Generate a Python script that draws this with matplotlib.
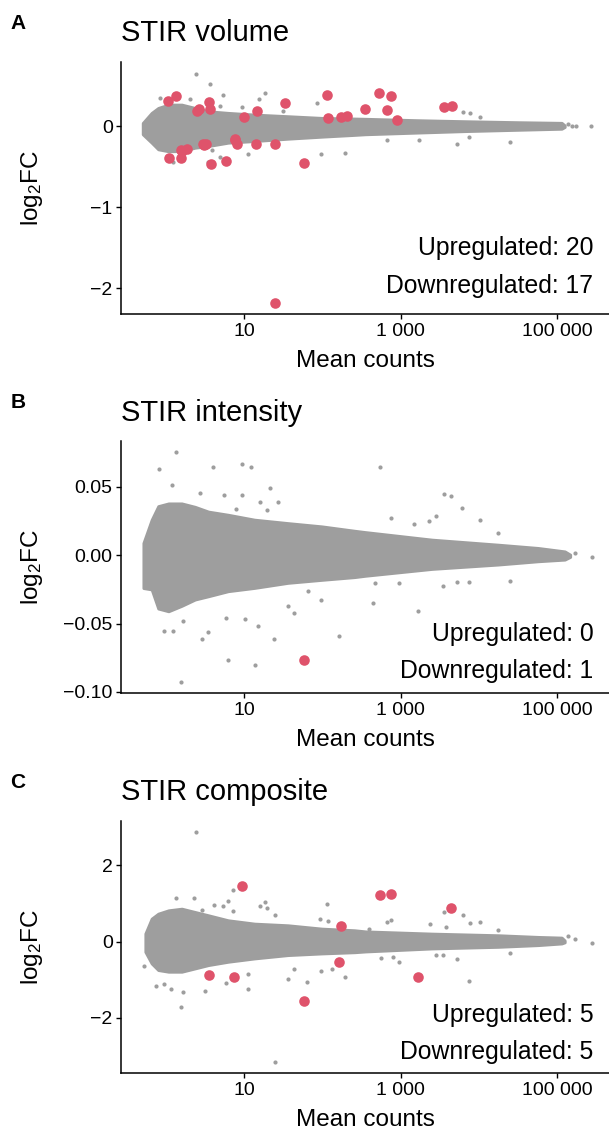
import numpy as np
import matplotlib
matplotlib.use("Agg")
import matplotlib.pyplot as plt
from matplotlib.ticker import FixedLocator, NullLocator

plt.rcParams['font.family'] = ['Liberation Sans', 'DejaVu Sans']
plt.rcParams['mathtext.fontset'] = 'custom'
plt.rcParams['mathtext.rm'] = 'Liberation Sans'
plt.rcParams['mathtext.default'] = 'regular'

GREY = '#9E9E9E'
RED = '#DF536B'

# ---- Panel A: STIR volume ----
# dense cloud of genes, outline (mean counts, upper / lower log2FC)
env_x_A = [0.50, 0.65, 0.79, 1.07, 1.58, 2.34, 3.47, 6.2, 13.5, 36, 98, 257, 355, 1580, 6760, 31600, 115000, 126000]
env_hi_A = [0.04, 0.165, 0.226, 0.267, 0.267, 0.226, 0.185, 0.165, 0.144, 0.124, 0.103, 0.095, 0.092, 0.075, 0.062, 0.05, 0.042, 0.01]
env_lo_A = [-0.10, -0.204, -0.286, -0.31, -0.307, -0.266, -0.245, -0.204, -0.184, -0.155, -0.13, -0.108, -0.10, -0.08, -0.061, -0.045, -0.032, -0.01]
# single grey genes outside the cloud
grey_x_A = [2.38, 3.62, 5.26, 18.3, 15.5, 0.83, 2.01, 4.95, 9.2, 86, 31.3, 11.2, 96.6, 192, 3.38, 4.86, 1.23, 3.87,
            6250, 7760, 10400, 5250, 7400, 25200, 1700, 668, 138000, 158000, 174000, 275000]
grey_y_A = [0.644, 0.525, 0.382, 0.407, 0.337, 0.353, 0.337, 0.255, 0.239, 0.288, 0.185, -0.348, -0.339, -0.327, -0.442, -0.38, -0.442, -0.294,
            0.177, 0.165, 0.111, -0.216, -0.13, -0.192, -0.171, -0.171, 0.03, 0.0, 0.0, 0.0]
up_x_A = [1.06, 1.33, 2.45, 2.65, 3.52, 3.62, 9.95, 14.7, 33.6, 113, 116, 171, 204, 353, 533, 668, 751, 897, 3610, 4530]
up_y_A = [0.316, 0.37, 0.19, 0.206, 0.30, 0.218, 0.116, 0.185, 0.288, 0.39, 0.095, 0.116, 0.124, 0.218, 0.41, 0.198, 0.37, 0.075, 0.238, 0.25]
down_x_A = [1.09, 1.53, 1.54, 1.60, 1.86, 2.98, 3.05, 3.19, 3.73, 5.8, 7.55, 7.7, 7.94, 14.3, 24.5, 57.5, 25]
down_y_A = [-0.389, -0.298, -0.389, -0.30, -0.278, -0.225, -0.23, -0.225, -0.47, -0.43, -0.155, -0.17, -0.225, -0.225, -0.225, -0.45, -2.18]

# ---- Panel B: STIR intensity ----
env_x_B = [0.51, 0.65, 0.79, 1.07, 1.58, 2.34, 3.47, 6.2, 13.5, 36, 98, 257, 355, 2510, 17800, 57500, 126000, 148000]
env_hi_B = [0.009, 0.026, 0.036, 0.038, 0.038, 0.0355, 0.032, 0.0297, 0.0261, 0.0236, 0.0212, 0.0180, 0.0170, 0.0115, 0.0078, 0.0054, 0.0029, 0.0005]
env_lo_B = [-0.024, -0.025, -0.039, -0.041, -0.037, -0.0324, -0.030, -0.0263, -0.0239, -0.0202, -0.0180, -0.0160, -0.0150, -0.0100, -0.0068, -0.0044, -0.0032, -0.0012]
grey_x_B = [1.32, 0.81, 3.99, 9.4, 12.3, 21.6, 5.57, 9.2, 2.72, 7.8, 15.9, 19.5, 26.7, 1.17,
            1.53, 6.2, 13.5, 2.89, 0.94, 1.23, 1.62, 3.38, 15.0, 24.3, 36.3, 43.0, 163, 94.8, 10.1, 5.9, 65.3,
            538, 3610, 4450, 6190, 10400, 759, 2280, 2850, 1470, 17500, 439, 1660, 3470, 7400, 25100, 5250, 942, 474, 279000, 171000]
grey_y_B = [0.0755, 0.0631, 0.0643, 0.067, 0.0643, 0.049, 0.0439, 0.0439, 0.0453, 0.0339, 0.0387, 0.0334, 0.0387, 0.0517,
            -0.0928, -0.0763, -0.0799, -0.0616, -0.0556, -0.0551, -0.0478, -0.0563, -0.0519, -0.0609, -0.0368, -0.0424, -0.0587, -0.0329, -0.0465, -0.0458, -0.0263,
            0.0646, 0.0451, 0.0431, 0.0344, 0.0261, 0.027, 0.0253, 0.0285, 0.0231, 0.0163, -0.0348, -0.0409, -0.0222, -0.0197, -0.019, -0.0195, -0.0202, -0.0202, -0.001, 0.0015]
up_x_B = []
up_y_B = []
down_x_B = [58]
down_y_B = [-0.0765]

# ---- Panel C: STIR composite ----
env_x_C = [0.54, 0.65, 0.79, 1.07, 1.58, 2.34, 3.47, 6.2, 13.5, 36, 98, 257, 355, 2510, 17800, 57500, 115000, 126000]
env_hi_C = [0.212, 0.605, 0.736, 0.824, 0.867, 0.78, 0.693, 0.562, 0.474, 0.431, 0.343, 0.30, 0.27, 0.212, 0.169, 0.125, 0.107, 0.03]
env_lo_C = [-0.268, -0.574, -0.748, -0.792, -0.792, -0.705, -0.617, -0.53, -0.443, -0.355, -0.312, -0.28, -0.26, -0.181, -0.138, -0.093, -0.05, -0.02]
grey_x_C = [2.38, 6.2, 7.2, 2.29, 1.32, 18.3, 19.5, 15.7, 114, 4.12, 5.37, 7.08, 2.83, 24.5, 92, 117,
            25, 1.53, 0.73, 0.94, 1.15, 1.65, 3.18, 5.87, 11.3, 11.0, 36.3, 63.5, 43.0, 96.6, 134, 192, 0.52,
            6250, 3610, 10400, 7760, 759, 668, 17500, 3840, 2390, 7400, 942, 566, 798, 5250, 25100, 3470, 2850, 138000, 171000, 279000, 397]
grey_y_C = [2.867, 1.068, 1.365, 1.155, 1.138, 1.033, 0.893, 0.946, 0.99, 0.972, 0.937, 0.806, 0.841, 0.70, 0.597, 0.544,
            -3.168, -1.718, -1.159, -1.124, -1.255, -1.334, -1.29, -1.098, -1.247, -0.853, -0.975, -1.071, -0.723, -0.783, -0.723, -0.923, -0.635,
            0.708, 0.769, 0.509, 0.491, 0.579, 0.518, 0.30, 0.387, 0.474, -1.046, -0.539, -0.425, -0.40, -0.469, -0.294, -0.364, -0.364, 0.142, 0.073, -0.024, 0.326]
up_x_C = [9.3, 540, 751, 4420, 174]
up_y_C = [1.47, 1.22, 1.24, 0.88, 0.42]
down_x_C = [3.53, 7.4, 58, 164, 1650]
down_y_C = [-0.88, -0.92, -1.56, -0.54, -0.92]

titles = ['STIR volume', 'STIR intensity', 'STIR composite']
letters = ['A', 'B', 'C']
ylims = [(-2.32, 0.793), (-0.101, 0.0836), (-3.457, 3.17)]
yticks = [[-2, -1, 0], [-0.10, -0.05, 0.0, 0.05], [-2, 0, 2]]
ytick_labels = [['\u22122', '\u22121', '0'], ['\u22120.10', '\u22120.05', '0.00', '0.05'], ['\u22122', '0', '2']]
xticks = [10, 1000, 100000]
xtick_labels = ['10', '1 000', '100 000']
xlim = (0.264, 4.64e5)

# layout in figure fractions (bottom of each axes)
ax_bottoms = [0.7224, 0.3875, 0.0519]
ax_height = 0.2229
title_y = [0.9708, 0.6349, 0.3006]
letter_y = [0.979, 0.6446, 0.309]
note_y = [(0.261, 0.113), (0.236, 0.090), (0.231, 0.086)]

fig = plt.figure(figsize=(6.09, 11.32), dpi=100)

panels = [
    (env_x_A, env_hi_A, env_lo_A, grey_x_A, grey_y_A, up_x_A, up_y_A, down_x_A, down_y_A),
    (env_x_B, env_hi_B, env_lo_B, grey_x_B, grey_y_B, up_x_B, up_y_B, down_x_B, down_y_B),
    (env_x_C, env_hi_C, env_lo_C, grey_x_C, grey_y_C, up_x_C, up_y_C, down_x_C, down_y_C),
]

for i, (ex, ehi, elo, gx, gy, ux, uy, dx, dy) in enumerate(panels):
    ax = fig.add_axes([0.1987, ax_bottoms[i], 0.8013, ax_height])
    ax.set_xscale('log')
    ax.fill_between(ex, elo, ehi, color=GREY, lw=2.0, edgecolor=GREY, joinstyle='round', zorder=1)
    ax.scatter(gx, gy, s=9, color=GREY, linewidths=0, zorder=2)
    ax.scatter(ux + dx, uy + dy, s=58, color=RED, linewidths=0, zorder=3)

    ax.set_xlim(*xlim)
    ax.set_ylim(*ylims[i])
    ax.xaxis.set_major_locator(FixedLocator(xticks))
    ax.xaxis.set_minor_locator(NullLocator())
    ax.set_xticklabels(xtick_labels)
    ax.set_yticks(yticks[i])
    ax.set_yticklabels(ytick_labels[i])

    for s in ['top', 'right']:
        ax.spines[s].set_visible(False)
    for s in ['left', 'bottom']:
        ax.spines[s].set_linewidth(1.1)
    ax.tick_params(axis='both', length=3.5, width=1.0, labelsize=14, pad=2.5, colors='black')

    ax.set_xlabel('Mean counts', fontsize=17.5)
    ax.xaxis.set_label_coords(0.5, -0.14)
    ax.set_ylabel('log$_2$FC', fontsize=17.5)
    ax.yaxis.set_label_coords(-0.155, 0.5)

    n_up = len(ux)
    n_down = len(dx)
    ax.text(0.968, note_y[i][0], 'Upregulated: %d' % n_up, transform=ax.transAxes,
            ha='right', va='center', fontsize=17.8)
    ax.text(0.968, note_y[i][1], 'Downregulated: %d' % n_down, transform=ax.transAxes,
            ha='right', va='center', fontsize=17.8)

    fig.text(0.1987, title_y[i], titles[i], ha='left', va='center', fontsize=21)
    fig.text(0.017, letter_y[i], letters[i], ha='left', va='center', fontsize=15, fontweight='bold')

fig.savefig('out.png', dpi=100)
